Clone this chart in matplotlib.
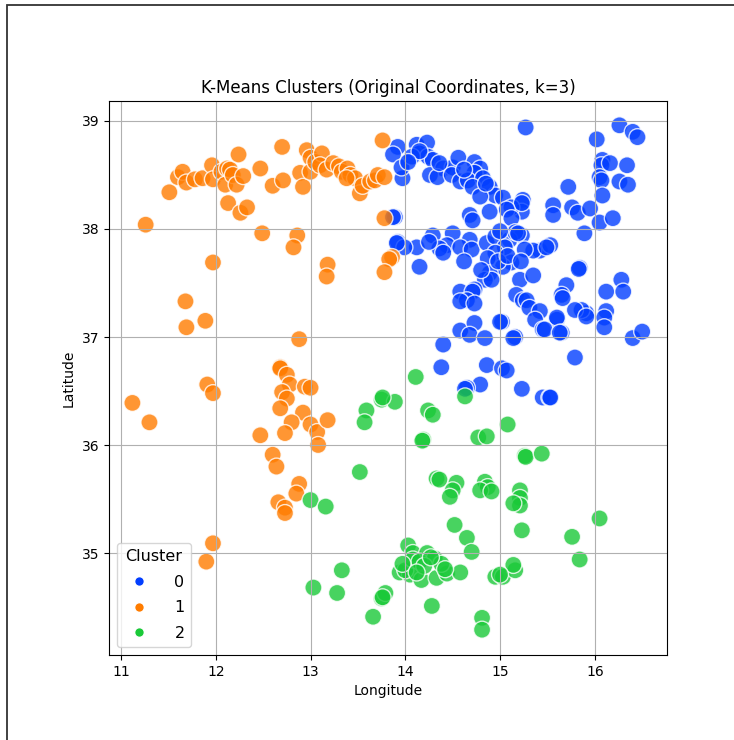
import numpy as np
import pandas as pd
import matplotlib
matplotlib.use("Agg")
import matplotlib.pyplot as plt
import seaborn as sns
from matplotlib.patches import Rectangle
from matplotlib.lines import Line2D

# cluster 0 - north-east group
lon0 = [15.27, 16.26, 16.40, 16.45, 16.02, 16.08, 16.07, 16.16, 16.34, 16.05, 16.07, 16.26, 16.35, 16.08,
        15.72, 15.56, 15.56, 15.76, 15.82, 15.95, 16.05, 16.19, 15.89, 15.24, 15.23, 15.23, 15.42, 15.53, 15.35,
        13.92, 13.87, 14.12, 14.23, 14.15, 14.24, 14.29, 14.40, 14.50, 14.56, 14.73, 14.79, 14.26, 14.34, 14.49,
        14.58, 14.73, 14.66, 14.82, 13.97, 13.96, 14.07, 14.71, 14.89, 14.95, 14.79, 15.03, 15.12, 15.23, 15.07,
        14.89, 14.68, 14.71, 15.12, 13.89, 14.29, 14.50, 14.68, 13.92, 14.12, 14.44, 14.58, 14.70, 14.86, 14.95,
        15.10, 15.16, 15.05, 14.95, 15.26, 13.99, 14.36, 14.87, 15.12, 15.03, 14.89, 14.84, 14.91, 15.21, 15.35,
        15.49, 15.19, 14.15, 14.58, 14.73, 14.71, 14.65, 14.58, 14.73, 15.17, 15.24, 15.28, 15.31, 15.42, 15.37,
        15.60, 15.60, 15.45, 15.47, 15.65, 15.63, 15.91, 15.86, 15.79, 15.91, 16.12, 16.10, 16.10, 16.12, 16.28,
        16.30, 16.40, 16.50, 15.84, 15.83, 15.70, 15.65, 15.66, 15.02, 15.00, 15.16, 15.14, 14.58, 14.73, 14.68,
        14.84, 14.40, 14.38, 14.86, 15.02, 15.07, 14.79, 14.65, 14.63, 15.23, 15.79, 15.45, 15.52, 15.53,
        14.98, 15.08, 14.80, 15.22, 15.00, 14.40, 14.25, 14.62, 14.15, 14.36, 14.62, 14.03, 14.85, 13.91, 13.87]
lat0 = [38.94, 38.96, 38.90, 38.85, 38.83, 38.64, 38.59, 38.61, 38.59, 38.48, 38.45, 38.44, 38.41, 38.31,
        38.39, 38.22, 38.13, 38.20, 38.15, 38.19, 38.06, 38.10, 37.96, 38.27, 38.16, 37.94, 37.80, 37.85, 37.80,
        38.76, 38.69, 38.78, 38.80, 38.70, 38.67, 38.64, 38.56, 38.57, 38.66, 38.62, 38.56, 38.50, 38.48, 38.50,
        38.44, 38.52, 38.45, 38.47, 38.47, 38.57, 38.67, 38.39, 38.39, 38.31, 38.30, 38.29, 38.20, 38.24, 38.18,
        38.16, 38.13, 38.08, 38.10, 38.11, 37.94, 37.96, 37.90, 37.88, 37.83, 37.85, 37.83, 37.81, 37.87, 37.93,
        37.90, 37.97, 37.83, 37.78, 37.81, 37.83, 37.82, 37.73, 37.69, 37.65, 37.59, 37.53, 37.53, 37.53, 37.57,
        37.83, 37.96, 37.65, 37.42, 37.44, 37.42, 37.34, 37.33, 37.31, 37.39, 37.34, 37.34, 37.27, 37.24, 37.16,
        37.16, 37.18, 37.07, 37.07, 37.04, 37.04, 37.22, 37.25, 37.25, 37.19, 37.24, 37.18, 37.09, 37.42, 37.53,
        37.42, 36.99, 37.05, 37.64, 37.63, 37.48, 37.39, 37.36, 37.14, 37.14, 37.00, 36.99, 37.06, 37.13, 37.02,
        36.99, 36.93, 36.72, 36.74, 36.71, 36.69, 36.56, 36.53, 36.52, 36.52, 36.81, 36.44, 36.44, 36.44,
        37.70, 37.75, 37.62, 37.70, 37.98, 37.78, 37.88, 37.70, 38.72, 38.61, 38.55, 38.62, 38.42, 37.87, 38.11]

# cluster 1 - western group
lon1 = [11.26, 11.51, 11.60, 11.65, 11.69, 11.78, 11.86, 11.96, 11.97, 12.06, 12.10, 12.12, 12.15, 12.18,
        12.22, 12.24, 12.29, 12.13, 12.26, 12.33, 12.47, 12.60, 12.71, 12.70, 12.49, 12.86, 12.82, 12.89, 12.92,
        12.96, 13.00, 13.00, 13.05, 13.12, 13.10, 13.17, 13.24, 13.30, 13.33, 13.39, 13.42, 13.47, 13.38, 13.52,
        13.55, 13.63, 13.68, 13.71, 13.78, 13.76, 13.78, 13.86, 13.83, 13.78, 11.97, 13.18, 13.17, 11.68, 11.69,
        11.89, 12.88, 12.68, 12.68, 12.75, 12.78, 12.94, 13.00, 12.70, 12.75, 12.68, 12.92, 12.80, 13.00, 13.07,
        13.18, 12.73, 12.47, 13.08, 12.60, 12.64, 12.88, 12.85, 12.66, 12.73, 12.73, 11.91, 11.97, 11.12, 11.30,
        11.97, 11.90]
lat1 = [38.04, 38.34, 38.48, 38.53, 38.43, 38.46, 38.47, 38.59, 38.46, 38.53, 38.41, 38.56, 38.55, 38.50,
        38.41, 38.69, 38.49, 38.24, 38.15, 38.20, 38.56, 38.40, 38.45, 38.76, 37.96, 37.94, 37.83, 38.52, 38.39,
        38.73, 38.66, 38.53, 38.62, 38.70, 38.59, 38.55, 38.61, 38.58, 38.53, 38.56, 38.50, 38.47, 38.47, 38.33,
        38.40, 38.44, 38.45, 38.50, 38.48, 38.82, 38.10, 37.74, 37.72, 37.60, 37.69, 37.67, 37.56, 37.33, 37.09,
        37.15, 36.98, 36.72, 36.71, 36.65, 36.56, 36.54, 36.53, 36.49, 36.43, 36.34, 36.30, 36.21, 36.19, 36.12,
        36.23, 36.11, 36.09, 36.00, 35.91, 35.80, 35.64, 35.55, 35.47, 35.42, 35.37, 36.56, 36.48, 36.39, 36.21,
        35.09, 34.92]

# cluster 2 - southern group
lon2 = [13.59, 13.57, 13.75, 13.89, 13.52, 13.00, 13.16, 13.03, 13.28, 13.33, 13.66, 13.75, 13.79, 14.24,
        14.29, 14.19, 14.18, 14.77, 14.86, 15.08, 14.63, 15.26, 15.27, 15.44, 14.33, 14.36, 14.54, 14.50, 14.47,
        14.84, 14.87, 14.79, 14.91, 15.21, 15.21, 15.21, 15.14, 14.52, 15.23, 14.65, 14.70, 16.05, 15.76, 15.84,
        14.03, 14.08, 14.23, 14.31, 13.94, 14.05, 14.17, 14.33, 14.44, 14.58, 14.95, 15.03, 15.16, 15.14, 14.28,
        14.81, 14.81, 13.76, 14.00, 14.08, 14.15, 14.20, 14.38, 13.97, 14.12, 14.27, 14.42, 15.00, 14.11, 13.76]
lat2 = [36.32, 36.21, 36.42, 36.40, 35.75, 35.49, 35.43, 34.68, 34.63, 34.84, 34.41, 34.58, 34.63, 36.32,
        36.28, 36.05, 36.04, 36.07, 36.08, 36.19, 36.45, 35.90, 35.89, 35.92, 35.69, 35.68, 35.65, 35.58, 35.52,
        35.66, 35.61, 35.58, 35.57, 35.58, 35.51, 35.44, 35.46, 35.26, 35.21, 35.14, 35.01, 35.32, 35.15, 34.94,
        35.07, 35.00, 35.00, 34.95, 34.82, 34.80, 34.75, 34.77, 34.81, 34.82, 34.78, 34.78, 34.84, 34.89, 34.51,
        34.40, 34.29, 34.59, 34.84, 34.94, 34.92, 34.88, 34.90, 34.90, 34.82, 34.96, 34.85, 34.80, 36.63, 36.44]

clusters = [0, 1, 2]

df = pd.DataFrame({
    "Longitude": lon0 + lon1 + lon2,
    "Latitude": lat0 + lat1 + lat2,
    "Cluster": [0] * len(lon0) + [1] * len(lon1) + [2] * len(lon2),
})

palette = sns.color_palette("bright", len(clusters))

fig = plt.figure(figsize=(7.34, 7.4), dpi=100)
ax = fig.add_axes([0.1485, 0.1149, 0.760, 0.7486])

sns.scatterplot(data=df, x="Longitude", y="Latitude", hue="Cluster",
                palette=palette, s=150, alpha=0.8, ax=ax, legend=False)

ax.set_title("K-Means Clusters (Original Coordinates, k=3)")
ax.set_xlabel("Longitude")
ax.set_ylabel("Latitude")
ax.set_xlim(10.873, 16.76)
ax.set_ylim(34.056, 39.185)
ax.grid(True)

handles = [Line2D([], [], marker="o", linestyle="", color=palette[i],
                  markeredgecolor="white", markersize=7) for i in range(len(clusters))]
ax.legend(handles, [str(c) for c in clusters], title="Cluster", loc="lower left",
          fontsize=11.5, title_fontsize=11.5, labelspacing=0.65, handletextpad=1.2)

# outer frame around the figure
fig.patches.append(Rectangle((0.0095, -0.05), 1.2, 1.043, transform=fig.transFigure,
                             fill=False, edgecolor="#333333", linewidth=1.3))

fig.savefig("out.png", dpi=100)
